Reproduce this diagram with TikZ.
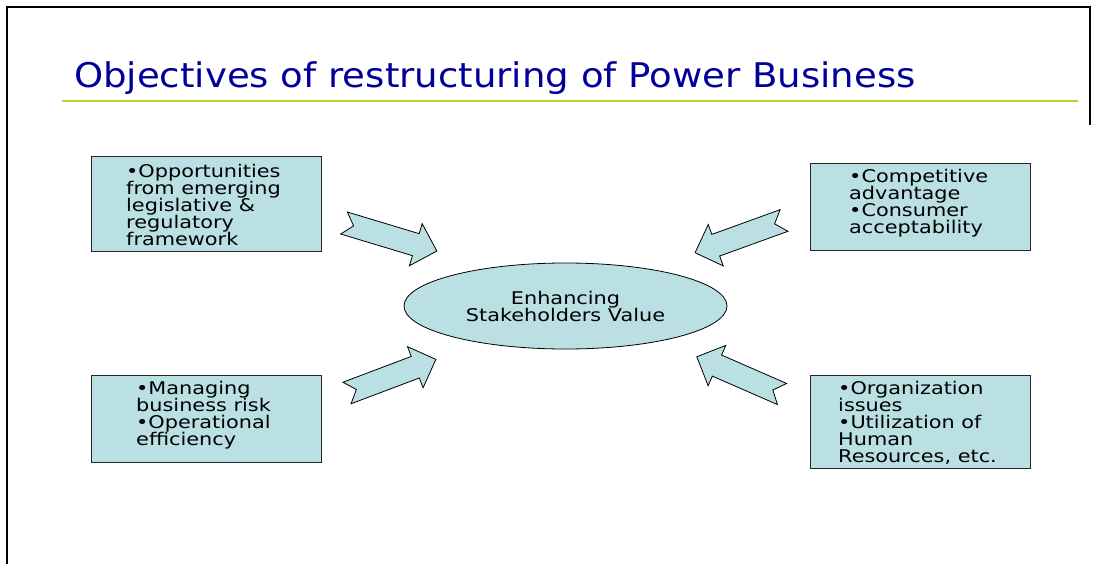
\documentclass[tikz,border=0pt]{standalone}
\usepackage{fontspec}
\usetikzlibrary{shapes.geometric}
\setmainfont{DejaVu Sans}
\newfontfamily\titlefont[FakeStretch=1.09]{DejaVu Sans}
\newfontfamily\bodyfont[FakeStretch=1.19]{DejaVu Sans}
\definecolor{titleblue}{RGB}{0,0,153}
\definecolor{rulegreen}{RGB}{176,216,60}
\definecolor{boxfill}{RGB}{187,224,227}

% notched block arrow: #1 tail centre, #2 direction angle, #3 length
\newcommand\blockarr[3]{%
  \begin{scope}[shift={(#1)}, rotate=#2]
    \draw[arrowshape] (0,11.5) -- ({#3-22},11.5) -- ({#3-22},22) -- (#3,0)
      -- ({#3-22},-22) -- ({#3-22},-11.5) -- (0,-11.5) -- (10,0) -- cycle;
  \end{scope}}

\begin{document}
\begin{tikzpicture}[x=1pt,y=-1pt,
  box/.style={draw=black!85, line width=0.8pt, fill=boxfill, inner sep=0pt},
  boxtext/.style={anchor=north west, inner sep=0pt, align=left,
    font=\bodyfont\fontsize{17.5}{17}\selectfont, execute at begin node=\strut},
  arrowshape/.style={draw=black, line width=0.8pt, fill=boxfill, line join=miter},
  hub/.style={ellipse, draw=black, line width=0.8pt, fill=boxfill, inner sep=0pt,
    align=center, font=\bodyfont\fontsize{17.5}{17}\selectfont}]
\useasboundingbox (0,0) rectangle (1107,564);
\fill[white] (0,0) rectangle (1107,564);

% slide frame
\draw[line width=2pt] (7,564) -- (7,7) -- (1090,7) -- (1090,125);

% heading and rule
\node[anchor=base west, inner sep=0pt, text=titleblue,
  font=\titlefont\fontsize{34}{40}\selectfont] (title) at (74,88)
  {Objectives of restructuring of Power Business};
\draw[rulegreen, line width=1.5pt] (62,101) -- (1078,101);

% four boxes
\node[box, minimum width=230pt, minimum height=95pt] (tl) at (206,203.5) {};
\node[box, minimum width=220pt, minimum height=87pt] (tr) at (920,206.5) {};
\node[box, minimum width=230pt, minimum height=87pt] (bl) at (206,418.5) {};
\node[box, minimum width=220pt, minimum height=93pt] (br) at (920,421.5) {};

\node[boxtext] (tltext) at (126,164.5)
  {•Opportunities\\from emerging\\legislative \&\\regulatory\\framework};
\node[boxtext] (trtext) at (849,169)
  {•Competitive\\advantage\\•Consumer\\acceptability};
\node[boxtext] (bltext) at (136,381)
  {•Managing\\business risk\\•Operational\\efficiency};
\node[boxtext] (brtext) at (838,381)
  {•Organization\\issues\\•Utilization of\\Human\\Resources, etc.};

% central ellipse
\node[hub, minimum width=323pt, minimum height=86pt] (hub) at (565.5,306)
  {Enhancing\\Stakeholders Value};

% arrows pointing at the ellipse
\coordinate (a1) at (344,223);
\coordinate (a2) at (784,220.5);
\coordinate (a3) at (347,393);
\coordinate (a4) at (782,394);
\blockarr{a1}{-16.8}{97}
\blockarr{a2}{-160.1}{94.6}
\blockarr{a3}{20.7}{95}
\blockarr{a4}{156.4}{93}
\end{tikzpicture}
\end{document}
